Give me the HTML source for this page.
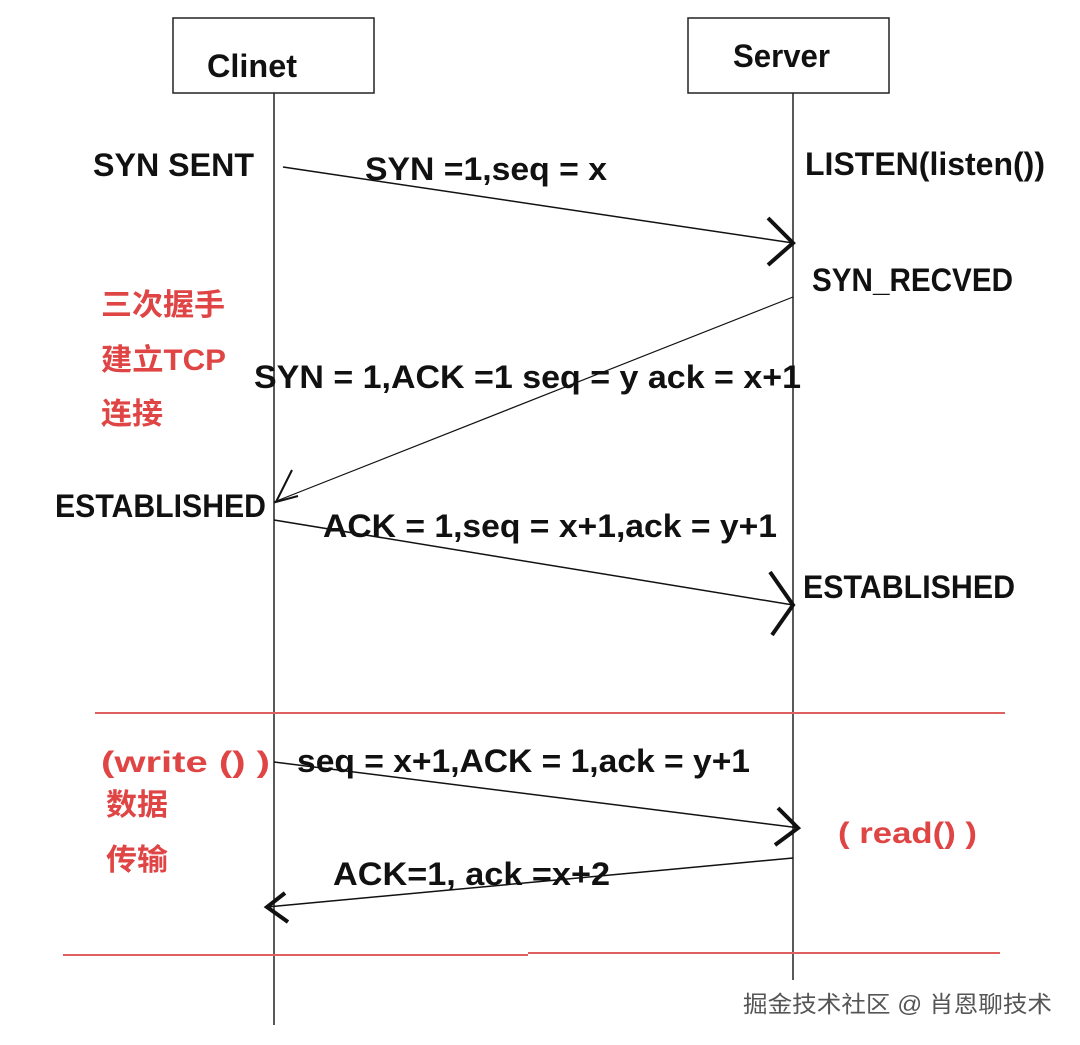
<!DOCTYPE html>
<html><head><meta charset="utf-8"><style>
html,body{margin:0;padding:0;background:#fff;width:1080px;height:1045px;overflow:hidden}
svg{display:block}
.b{font-family:"Liberation Sans","Noto Sans CJK SC",sans-serif;font-weight:bold;font-size:32px;fill:#111}
.r{font-family:"Liberation Sans","Noto Sans CJK SC",sans-serif;font-weight:bold;font-size:30px;fill:#e04545}
</style></head><body>
<svg width="1080" height="1045" viewBox="0 0 1080 1045">
<rect x="173" y="18" width="201" height="75" fill="none" stroke="#222" stroke-width="1.5"/>
<rect x="688" y="18" width="201" height="75" fill="none" stroke="#222" stroke-width="1.5"/>
<line x1="274" y1="93" x2="274" y2="1025" stroke="#222" stroke-width="1.5"/>
<line x1="793" y1="93" x2="793" y2="980" stroke="#222" stroke-width="1.5"/>
<text class="b" x="207" y="77" textLength="90" lengthAdjust="spacingAndGlyphs">Clinet</text>
<text class="b" x="733" y="67" textLength="97" lengthAdjust="spacingAndGlyphs">Server</text>
<text class="b" x="93" y="176" textLength="161" lengthAdjust="spacingAndGlyphs">SYN  SENT</text>
<text class="b" x="365" y="180" textLength="242" lengthAdjust="spacingAndGlyphs">SYN =1,seq = x</text>
<text class="b" x="805" y="175" textLength="240" lengthAdjust="spacingAndGlyphs">LISTEN(listen())</text>
<g stroke="#111" fill="none">
<line x1="283" y1="167" x2="793" y2="243" stroke-width="1.5"/>
<polyline points="768,218 793,243 768,265" stroke-width="4"/>
<line x1="793" y1="297" x2="274" y2="502" stroke-width="1.2"/>
<polyline points="292,470 276,502 298,496" stroke-width="2"/>
<line x1="274" y1="520" x2="793" y2="605" stroke-width="1.5"/>
<polyline points="770,572 793,605 772,635" stroke-width="4"/>
<line x1="274" y1="762" x2="800" y2="828" stroke-width="1.5"/>
<polyline points="778,808 798,828 775,845" stroke-width="4"/>
<line x1="793" y1="858" x2="267" y2="907" stroke-width="1.5"/>
<polyline points="285,893 267,907 288,922" stroke-width="4"/>
</g>
<text class="b" x="812" y="291" textLength="201" lengthAdjust="spacingAndGlyphs">SYN_RECVED</text>
<text class="r" x="101" y="315" textLength="124" lengthAdjust="spacingAndGlyphs">三次握手</text>
<text class="r" x="101" y="370" textLength="125" lengthAdjust="spacingAndGlyphs">建立TCP</text>
<text class="r" x="101" y="424" textLength="62" lengthAdjust="spacingAndGlyphs">连接</text>
<text class="b" x="254" y="388" textLength="547" lengthAdjust="spacingAndGlyphs">SYN = 1,ACK =1  seq = y ack = x+1</text>
<text class="b" x="55" y="517" textLength="211" lengthAdjust="spacingAndGlyphs">ESTABLISHED</text>
<text class="b" x="323" y="537" textLength="454" lengthAdjust="spacingAndGlyphs">ACK = 1,seq = x+1,ack = y+1</text>
<text class="b" x="803" y="598" textLength="212" lengthAdjust="spacingAndGlyphs">ESTABLISHED</text>
<line x1="95" y1="713" x2="1005" y2="713" stroke="#e06060" stroke-width="2"/>
<text class="r" x="101" y="772" textLength="169" lengthAdjust="spacingAndGlyphs">(write  ()  )</text>
<text class="b" x="297" y="772" textLength="453" lengthAdjust="spacingAndGlyphs">seq = x+1,ACK = 1,ack = y+1</text>
<text class="r" x="106" y="815" textLength="62" lengthAdjust="spacingAndGlyphs">数据</text>
<text class="r" x="106" y="870" textLength="62" lengthAdjust="spacingAndGlyphs">传输</text>
<text class="r" x="838" y="843" textLength="139" lengthAdjust="spacingAndGlyphs">( read() )</text>
<text class="b" x="333" y="885" textLength="277" lengthAdjust="spacingAndGlyphs">ACK=1,  ack =x+2</text>
<line x1="63" y1="955" x2="528" y2="955" stroke="#e06060" stroke-width="2"/>
<line x1="528" y1="953" x2="1000" y2="953" stroke="#e06060" stroke-width="2"/>
<text x="743" y="1012" font-family="Liberation Sans, Noto Sans CJK SC, sans-serif" font-size="23" fill="#555" textLength="309" lengthAdjust="spacingAndGlyphs">掘金技术社区 @ 肖恩聊技术</text>
</svg>
</body></html>
